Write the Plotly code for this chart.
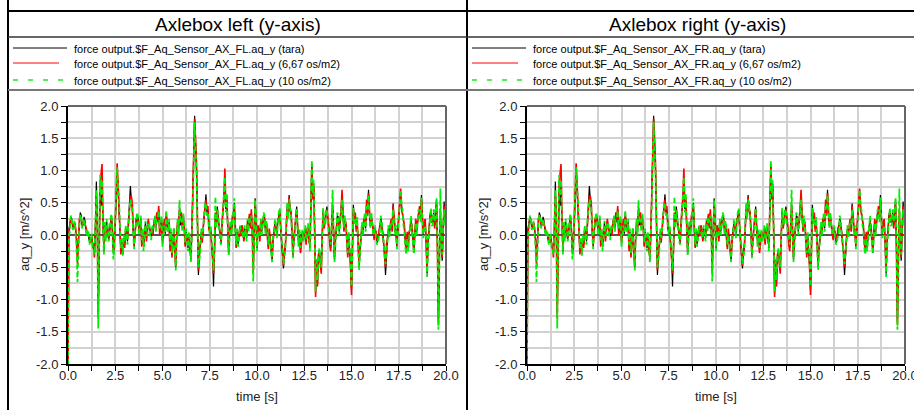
import plotly.graph_objects as go

# ---------------- data ----------------
# samples on the 0.1 s grid and the in-between samples (0.05, 0.15, ... s)
tara = [
    -2.00, 0.18, 0.25, 0.15, 0.08, -0.30, 0.20, 0.30, 0.18, 0.22,
    0.02, -0.05, -0.10, -0.15, -0.28, 0.83, -1.20, 0.70, 0.75, -0.25,
    -0.05, 0.12, 0.05, 0.30, -0.30, 0.10, 1.00, 0.50, -0.25, -0.30,
    -0.15, 0.00, 0.20, 0.76, 0.42, -0.18, 0.20, 0.28, 0.15, -0.12,
    -0.18, 0.20, 0.05, 0.15, -0.02, 0.05, 0.28, 0.30, 0.40, 0.15,
    -0.13, 0.20, 0.35, 0.10, -0.20, -0.30, 0.10, -0.50, 0.22, 0.45,
    0.30, 0.30, -0.15, -0.10, 0.02, -0.40, 0.50, 1.85, 1.00, -0.62,
    -0.20, -0.10, 0.35, 0.63, 0.40, 0.02, -0.10, -0.80, 0.30, 0.44,
    0.10, -0.13, 0.30, 0.85, 0.55, -0.30, 0.20, 0.25, 0.50, -0.18,
    -0.15, 0.13, 0.10, -0.08, 0.05, 0.23, 0.30, 0.35, -0.50, 0.57,
    -0.20, 0.05, 0.23, 0.15, 0.28, 0.20, -0.18, -0.10, -0.39, 0.05,
    0.13, 0.20, 0.39, -0.08, -0.52, -0.20, 0.45, 0.62, 0.33, -0.34,
    0.10, 0.44, -0.13, -0.23, 0.05, 0.00, -0.10, 0.13, -0.20, 1.10,
    0.80, -0.90, -0.75, -0.23, -0.55, 0.39, 0.20, 0.44, 0.10, -0.20,
    0.50, -0.39, 0.10, 0.28, 0.20, 0.60, 0.10, 0.15, -0.30, -0.20,
    -0.85, 0.47, 0.30, 0.23, -0.50, -0.10, 0.00, 0.30, 0.50, 0.70,
    0.13, 0.20, -0.05, 0.00, -0.08, 0.10, 0.18, -0.10, -0.62, -0.10,
    0.00, 0.20, 0.49, 0.05, -0.18, 0.30, 0.65, 0.33, 0.10, -0.28,
    -0.20, 0.13, 0.10, -0.28, 0.20, 0.23, 0.40, 0.62, 0.00, 0.20,
    -0.60, 0.10, 0.39, 0.18, 0.15, 0.54, -1.35, 0.30, -0.40, 0.52, 0.35,
]
tara_mid = [
    0.10, 0.28, 0.12, 0.20, -0.05, -0.10, 0.35, 0.12, 0.28, 0.05,
    0.05, -0.12, 0.00, -0.22, 0.10, 0.20, -0.20, 0.45, 0.20, 0.15,
    0.20, -0.08, 0.22, 0.05, -0.15, 0.55, 0.70, 0.10, -0.10, -0.05,
    0.10, -0.10, 0.45, 0.55, 0.05, 0.05, 0.32, 0.05, 0.25, 0.05,
    0.05, -0.05, 0.22, 0.02, 0.12, 0.18, 0.10, 0.20, 0.05, 0.25,
    0.05, 0.02, 0.15, 0.20, 0.05, -0.10, -0.20, -0.05, 0.05, 0.15,
    0.10, 0.15, 0.05, -0.20, -0.15, 0.00, 1.20, 1.40, 0.20, -0.35,
    0.05, 0.15, 0.45, 0.35, 0.15, 0.10, -0.35, -0.20, 0.15, 0.25,
    -0.05, 0.15, 0.55, 0.40, 0.05, 0.00, 0.05, 0.35, 0.10, 0.05,
    -0.02, 0.02, 0.05, 0.10, -0.05, 0.10, 0.15, 0.05, 0.05, 0.25,
    0.10, -0.05, 0.05, 0.30, 0.05, 0.05, 0.05, -0.25, -0.05, 0.20,
    0.00, 0.30, 0.10, -0.20, -0.30, 0.15, 0.30, 0.40, 0.05, -0.10,
    0.25, 0.10, 0.05, -0.10, -0.08, 0.10, 0.05, -0.05, 0.40, 0.60,
    0.10, -0.40, -0.35, -0.40, -0.05, 0.15, 0.35, 0.20, -0.10, 0.15,
    0.05, -0.10, 0.30, 0.05, 0.35, 0.30, 0.25, -0.05, 0.00, -0.45,
    -0.10, 0.20, 0.10, -0.15, -0.25, 0.15, 0.20, 0.10, 0.35, 0.30,
    0.30, 0.05, 0.12, -0.12, 0.05, 0.25, 0.00, -0.30, -0.20, 0.10,
    0.12, 0.10, 0.25, 0.10, 0.05, 0.50, 0.45, 0.20, -0.15, 0.00,
    0.00, 0.25, -0.10, 0.00, 0.05, 0.35, 0.25, 0.30, 0.15, -0.10,
    -0.15, 0.30, 0.20, 0.35, 0.30, -0.20, -0.40, -0.10, 0.10, 0.20,
]

os_667 = [
    -2.00, 0.12, 0.22, 0.10, 0.12, -0.45, 0.25, 0.22, 0.15, 0.18,
    0.05, -0.02, -0.12, -0.10, -0.35, 0.60, -1.30, 0.80, 1.10, -0.20,
    0.00, 0.08, 0.10, 0.25, -0.25, 0.20, 1.11, 0.45, -0.30, -0.25,
    -0.20, 0.05, 0.15, 0.60, 0.50, -0.15, 0.25, 0.22, 0.10, -0.18,
    -0.15, 0.15, 0.10, 0.10, 0.02, 0.00, 0.22, 0.35, 0.45, 0.10,
    -0.10, 0.25, 0.30, 0.15, -0.25, -0.35, 0.05, -0.48, 0.20, 0.40,
    0.35, 0.25, -0.18, -0.05, 0.00, -0.35, 0.60, 1.80, 1.10, -0.55,
    -0.15, -0.12, 0.30, 0.55, 0.45, 0.05, -0.15, -0.60, 0.35, 0.40,
    0.15, -0.10, 0.35, 1.03, 0.60, -0.25, 0.15, 0.30, 0.45, -0.20,
    -0.10, 0.10, 0.15, -0.10, 0.08, 0.20, 0.33, 0.40, -0.60, 0.50,
    -0.15, 0.10, 0.20, 0.18, 0.25, 0.15, -0.22, -0.05, -0.35, 0.08,
    0.10, 0.25, 0.35, -0.05, -0.48, -0.15, 0.40, 0.58, 0.38, -0.30,
    0.15, 0.40, -0.10, -0.28, 0.02, 0.05, -0.15, 0.10, -0.15, 1.05,
    0.75, -0.96, -0.80, -0.28, -0.60, 0.35, 0.25, 0.40, 0.15, -0.25,
    0.45, -0.35, 0.15, 0.25, 0.25, 0.70, 0.05, 0.20, -0.35, -0.25,
    -0.93, 0.40, 0.35, 0.20, -0.45, -0.05, 0.05, 0.25, 0.55, 0.65,
    0.15, 0.15, -0.08, 0.05, -0.05, 0.15, 0.15, -0.15, -0.50, -0.05,
    0.05, 0.25, 0.45, 0.10, -0.15, 0.35, 0.72, 0.30, 0.15, -0.25,
    -0.15, 0.10, 0.15, -0.25, 0.25, 0.20, 0.45, 0.55, 0.05, 0.25,
    -0.55, 0.15, 0.35, 0.20, 0.10, 0.50, -1.40, 0.40, -0.35, 0.45, 0.30,
]
os_667_mid = [
    0.05, 0.25, 0.15, 0.18, -0.10, -0.15, 0.30, 0.18, 0.22, 0.10,
    0.00, -0.08, -0.05, -0.18, 0.05, 0.10, -0.30, 0.95, 0.30, 0.10,
    0.15, -0.05, 0.18, 0.10, -0.10, 0.60, 0.80, 0.05, -0.15, -0.10,
    0.05, -0.05, 0.40, 0.60, 0.10, 0.00, 0.28, 0.10, 0.20, 0.00,
    0.10, -0.10, 0.25, 0.05, 0.08, 0.22, 0.15, 0.25, 0.00, 0.20,
    0.10, 0.05, 0.20, 0.15, 0.00, -0.15, -0.25, 0.00, 0.10, 0.20,
    0.15, 0.10, 0.00, -0.15, -0.20, 0.05, 1.30, 1.50, 0.25, -0.30,
    0.00, 0.20, 0.40, 0.40, 0.10, 0.05, -0.30, -0.25, 0.20, 0.20,
    0.00, 0.20, 0.60, 0.45, 0.00, 0.05, 0.10, 0.30, 0.15, 0.00,
    0.03, -0.02, 0.10, 0.05, 0.00, 0.15, 0.10, 0.10, 0.00, 0.20,
    0.15, -0.10, 0.10, 0.25, 0.10, 0.00, 0.10, -0.20, -0.10, 0.15,
    0.05, 0.25, 0.15, -0.25, -0.25, 0.10, 0.35, 0.35, 0.10, -0.05,
    0.20, 0.15, 0.00, -0.15, -0.05, 0.05, 0.10, -0.10, 0.45, 0.55,
    0.05, -0.45, -0.30, -0.45, 0.00, 0.10, 0.30, 0.25, -0.15, 0.10,
    0.10, -0.05, 0.25, 0.10, 0.40, 0.35, 0.20, 0.00, -0.05, -0.50,
    -0.05, 0.25, 0.05, -0.10, -0.20, 0.10, 0.25, 0.15, 0.30, 0.25,
    0.25, 0.10, 0.08, -0.08, 0.10, 0.20, 0.05, -0.25, -0.15, 0.05,
    0.15, 0.05, 0.30, 0.05, 0.10, 0.55, 0.40, 0.25, -0.10, 0.05,
    0.05, 0.20, -0.05, 0.05, 0.10, 0.30, 0.30, 0.25, 0.20, -0.15,
    -0.10, 0.25, 0.25, 0.30, 0.25, -0.30, -0.35, -0.05, 0.05, 0.25,
]

os_10 = [
    -2.00, 0.05, 0.27, 0.12, 0.02, -0.73, 0.15, 0.28, 0.20, 0.14,
    -0.02, 0.00, -0.08, -0.18, -0.30, 0.70, -1.45, 0.93, 0.85, -0.30,
    -0.10, 0.15, 0.00, 0.33, -0.38, 0.15, 1.05, 0.55, -0.20, -0.32,
    -0.10, -0.02, 0.25, 0.55, 0.45, -0.22, 0.15, 0.30, 0.18, -0.08,
    -0.25, 0.22, 0.00, 0.18, -0.08, 0.10, 0.30, 0.25, 0.38, 0.20,
    -0.18, 0.15, 0.39, 0.05, -0.15, -0.28, 0.12, -0.55, 0.25, 0.54,
    0.25, 0.33, -0.12, -0.12, 0.05, -0.42, 0.45, 1.75, 0.95, -0.50,
    -0.25, -0.05, 0.40, 0.50, 0.35, 0.00, -0.08, -0.55, 0.60, 0.38,
    0.05, -0.15, 0.25, 0.90, 0.65, -0.31, 0.23, 0.20, 0.57, -0.15,
    -0.18, 0.15, 0.05, -0.05, 0.02, 0.25, 0.28, 0.30, -0.72, 0.55,
    -0.25, 0.00, 0.25, 0.12, 0.30, 0.22, -0.15, -0.12, -0.42, 0.02,
    0.15, 0.18, 0.42, -0.10, -0.45, -0.25, 0.50, 0.55, 0.30, -0.36,
    0.05, 0.42, -0.18, -0.20, 0.08, -0.02, -0.08, 0.18, -0.25, 1.16,
    0.85, -0.88, -0.70, -0.20, -0.50, 0.42, 0.15, 0.38, 0.05, -0.15,
    0.70, -0.42, 0.05, 0.30, 0.15, 0.55, 0.12, 0.10, -0.28, -0.15,
    -0.80, 0.42, 0.25, 0.28, -0.54, -0.12, -0.02, 0.35, 0.45, 0.62,
    0.10, 0.22, 0.00, -0.05, -0.10, 0.05, 0.20, -0.08, -0.45, -0.15,
    -0.05, 0.18, 0.40, 0.00, -0.22, 0.25, 0.70, 0.38, 0.05, -0.30,
    -0.25, 0.15, 0.05, -0.30, 0.18, 0.28, 0.35, 0.58, -0.05, 0.15,
    -0.65, 0.05, 0.42, 0.15, 0.20, 0.58, -1.47, 0.72, -0.30, 0.40, 0.25,
]
os_10_mid = [
    0.00, 0.30, 0.08, 0.22, -0.15, -0.05, 0.32, 0.10, 0.25, 0.02,
    0.08, -0.15, 0.02, -0.25, 0.15, 0.25, -0.10, 0.60, 0.15, 0.20,
    0.25, -0.10, 0.25, 0.00, -0.20, 0.50, 0.75, 0.15, -0.05, 0.00,
    0.15, -0.15, 0.50, 0.50, 0.00, 0.10, 0.35, 0.00, 0.30, 0.10,
    0.00, 0.00, 0.20, -0.02, 0.15, 0.15, 0.05, 0.25, 0.10, 0.30,
    0.00, 0.05, 0.10, 0.25, 0.10, -0.05, -0.25, -0.10, 0.00, 0.20,
    0.05, 0.20, 0.10, -0.25, -0.10, -0.05, 1.10, 1.30, 0.15, -0.40,
    0.10, 0.10, 0.50, 0.30, 0.20, 0.15, -0.40, -0.15, 0.10, 0.30,
    -0.10, 0.10, 0.50, 0.35, 0.10, -0.05, 0.00, 0.40, 0.05, 0.10,
    -0.05, 0.05, 0.00, 0.15, -0.10, 0.05, 0.20, 0.00, 0.10, 0.30,
    0.05, 0.00, 0.00, 0.35, 0.00, 0.10, 0.00, -0.30, 0.00, 0.25,
    -0.05, 0.35, 0.05, -0.15, -0.35, 0.20, 0.25, 0.45, 0.00, -0.15,
    0.30, 0.05, 0.10, -0.05, -0.10, 0.15, 0.00, 0.00, 0.35, 0.65,
    0.15, -0.35, -0.40, -0.35, -0.10, 0.20, 0.40, 0.15, -0.05, 0.20,
    0.00, -0.15, 0.35, 0.00, 0.30, 0.25, 0.30, -0.10, 0.05, -0.40,
    -0.15, 0.15, 0.15, -0.20, -0.30, 0.20, 0.15, 0.05, 0.40, 0.35,
    0.35, 0.00, 0.15, -0.15, 0.00, 0.30, -0.05, -0.35, -0.25, 0.15,
    0.10, 0.15, 0.20, 0.15, 0.00, 0.45, 0.50, 0.15, -0.20, -0.05,
    -0.05, 0.30, -0.15, -0.05, 0.00, 0.40, 0.20, 0.35, 0.10, -0.05,
    -0.20, 0.35, 0.15, 0.40, 0.35, -0.15, -0.45, -0.15, 0.15, 0.15,
]


def merge(grid, mid):
    out = []
    for a, b in zip(grid[:-1], mid):
        out += [a, b]
    out.append(grid[-1])
    return out


time_s = [round(i * 0.05, 2) for i in range(401)]

# both panels show the same curves in the picture
panels = [
    ("Axlebox left (y-axis)", "FL"),
    ("Axlebox right (y-axis)", "FR"),
]
series_labels = ["(tara)", "(6,67 os/m2)", "(10 os/m2)"]
series_values = [merge(tara, tara_mid), merge(os_667, os_667_mid), merge(os_10, os_10_mid)]

x_tickvals = [0, 2.5, 5, 7.5, 10, 12.5, 15, 17.5, 20]
x_ticktext = ["0.0", "2.5", "5.0", "7.5", "10.0", "12.5", "15.0", "17.5", "20.0"]
x_minor = [1.25, 3.75, 6.25, 8.75, 11.25, 13.75, 16.25, 18.75]
y_tickvals = [-2, -1.5, -1, -0.5, 0, 0.5, 1, 1.5, 2]
y_ticktext = ["-2.0", "-1.5", "-1.0", "-0.5", "0.0", "0.5", "1.0", "1.5", "2.0"]
y_minor = [-1.75, -1.25, -0.75, -0.25, 0.25, 0.75, 1.25, 1.75]

# ---------------- styling ----------------
W, H = 914, 410
FONT = "Liberation Sans, Arial, sans-serif"
GRID = "#d2d2d2"
line_styles = [
    dict(color="#000000", width=1.2),
    dict(color="#ff0000", width=1.6),
    dict(color="#00ee00", width=1.8, dash="5px,3px"),
]
legend_line_styles = [
    dict(color="#000000", width=1),
    dict(color="#ff0000", width=1),
    dict(color="#55ee55", width=2, dash="5px,10px"),
]


def px(x):
    return x / W


def py(y):
    return 1 - y / H


panel_geo = [
    dict(x0=68, x1=446, box_left=8, title_cx=237.5, ytitle_x=25, xtitle_cx=257),
    dict(x0=527, x1=905, box_left=467, title_cx=697.5, ytitle_x=484, xtitle_cx=716),
]
legend_line_len = [54, 46, 54]
legend_rows_y = [48, 63, 80]

fig = go.Figure()
shapes = []
annotations = []

for i, ((title, side), geo) in enumerate(zip(panels, panel_geo)):
    xa = "x" if i == 0 else "x2"
    ya = "y" if i == 0 else "y2"
    for lab, vals, st in zip(series_labels, series_values, line_styles):
        fig.add_trace(go.Scatter(
            x=time_s, y=vals, mode="lines", line=st,
            xaxis=xa, yaxis=ya, showlegend=False,
            name=f"force output.$F_Aq_Sensor_AX_{side}.aq_y {lab}",
        ))

    axis_common = dict(
        showline=True, linecolor="#000000", linewidth=2,
        ticks="outside", ticklen=5, tickwidth=1, tickcolor="#000000",
        showgrid=True, gridcolor=GRID, gridwidth=1.5,
        tickfont=dict(family=FONT, size=13, color="#222222"),
        fixedrange=True, automargin=False, ticklabeloverflow="allow",
    )
    xkey = "xaxis" if i == 0 else "xaxis2"
    ykey = "yaxis" if i == 0 else "yaxis2"
    fig.update_layout(**{
        xkey: dict(
            axis_common,
            domain=[px(geo["x0"]), px(geo["x1"])], range=[0, 20],
            anchor=ya, tickmode="array", tickvals=x_tickvals, ticktext=x_ticktext,
            zeroline=False, ticklabelstandoff=-7,
            minor=dict(tickmode="array", tickvals=x_minor, ticks="outside",
                       ticklen=5, tickcolor="#000000", showgrid=True,
                       gridcolor=GRID, gridwidth=1.5),
        ),
        ykey: dict(
            axis_common,
            domain=[py(364), py(106)], range=[-2, 2],
            anchor=xa, tickmode="array", tickvals=y_tickvals, ticktext=y_ticktext,
            zeroline=True, zerolinecolor="#555555", zerolinewidth=1.5,
            minor=dict(tickmode="array", tickvals=y_minor, ticks="outside",
                       ticklen=5, tickcolor="#000000", showgrid=True,
                       gridcolor=GRID, gridwidth=1.5),
        ),
    })

    # top / right frame of plot area (grey)
    shapes.append(dict(type="line", xref=f"{xa} domain", yref=f"{ya} domain",
                       x0=0, x1=1, y0=1, y1=1, line=dict(color="#666666", width=2)))
    shapes.append(dict(type="line", xref=f"{xa} domain", yref=f"{ya} domain",
                       x0=1, x1=1, y0=0, y1=1, line=dict(color="#666666", width=2)))

    # title
    annotations.append(dict(text=title, x=px(geo["title_cx"]), y=py(24), xref="paper",
                            yref="paper", showarrow=False, xanchor="center", yanchor="middle",
                            font=dict(family=FONT, size=19, color="#000000")))
    # legend
    bl = geo["box_left"]
    for lab, st, ln, ry in zip(series_labels, legend_line_styles, legend_line_len, legend_rows_y):
        shapes.append(dict(type="line", xref="paper", yref="paper",
                           x0=px(bl + 5), x1=px(bl + 5 + ln),
                           y0=py(ry), y1=py(ry), line=st))
        annotations.append(dict(text=f"force output.$F_Aq_Sensor_AX_{side}.aq_y {lab}",
                                x=px(bl + 64), y=py(ry + 1), xref="paper", yref="paper",
                                showarrow=False, xanchor="left", yanchor="middle",
                                font=dict(family=FONT, size=11, color="#000000")))
    # axis titles
    annotations.append(dict(text="aq_y [m/s^2]", x=px(geo["ytitle_x"]), y=py(235),
                            xref="paper", yref="paper", showarrow=False, textangle=-90,
                            xanchor="center", yanchor="middle",
                            font=dict(family=FONT, size=13, color="#222222")))
    annotations.append(dict(text="time [s]", x=px(geo["xtitle_cx"]), y=py(396),
                            xref="paper", yref="paper", showarrow=False,
                            xanchor="center", yanchor="middle",
                            font=dict(family=FONT, size=13, color="#222222")))

# box frame lines
shapes += [
    dict(type="line", xref="paper", yref="paper", x0=px(8), x1=px(8), y0=0, y1=1,
         line=dict(color="#000000", width=2)),
    dict(type="line", xref="paper", yref="paper", x0=px(467), x1=px(467), y0=0, y1=1,
         line=dict(color="#000000", width=2)),
    dict(type="line", xref="paper", yref="paper", x0=px(8), x1=1, y0=py(11), y1=py(11),
         line=dict(color="#000000", width=2)),
    dict(type="line", xref="paper", yref="paper", x0=px(8), x1=1, y0=py(37), y1=py(37),
         line=dict(color="#333333", width=1.5)),
    dict(type="line", xref="paper", yref="paper", x0=px(8), x1=1, y0=py(90), y1=py(90),
         line=dict(color="#777777", width=2)),
]

fig.update_layout(
    width=W, height=H, margin=dict(l=0, r=0, t=0, b=0, autoexpand=False),
    paper_bgcolor="#ffffff", plot_bgcolor="#ffffff",
    font=dict(family=FONT), shapes=shapes, annotations=annotations,
    showlegend=False,
)

fig.write_html(
    "out.html",
    config={"displayModeBar": False},
    post_script="document.body.style.margin='0';document.body.style.overflow='hidden';",
)
